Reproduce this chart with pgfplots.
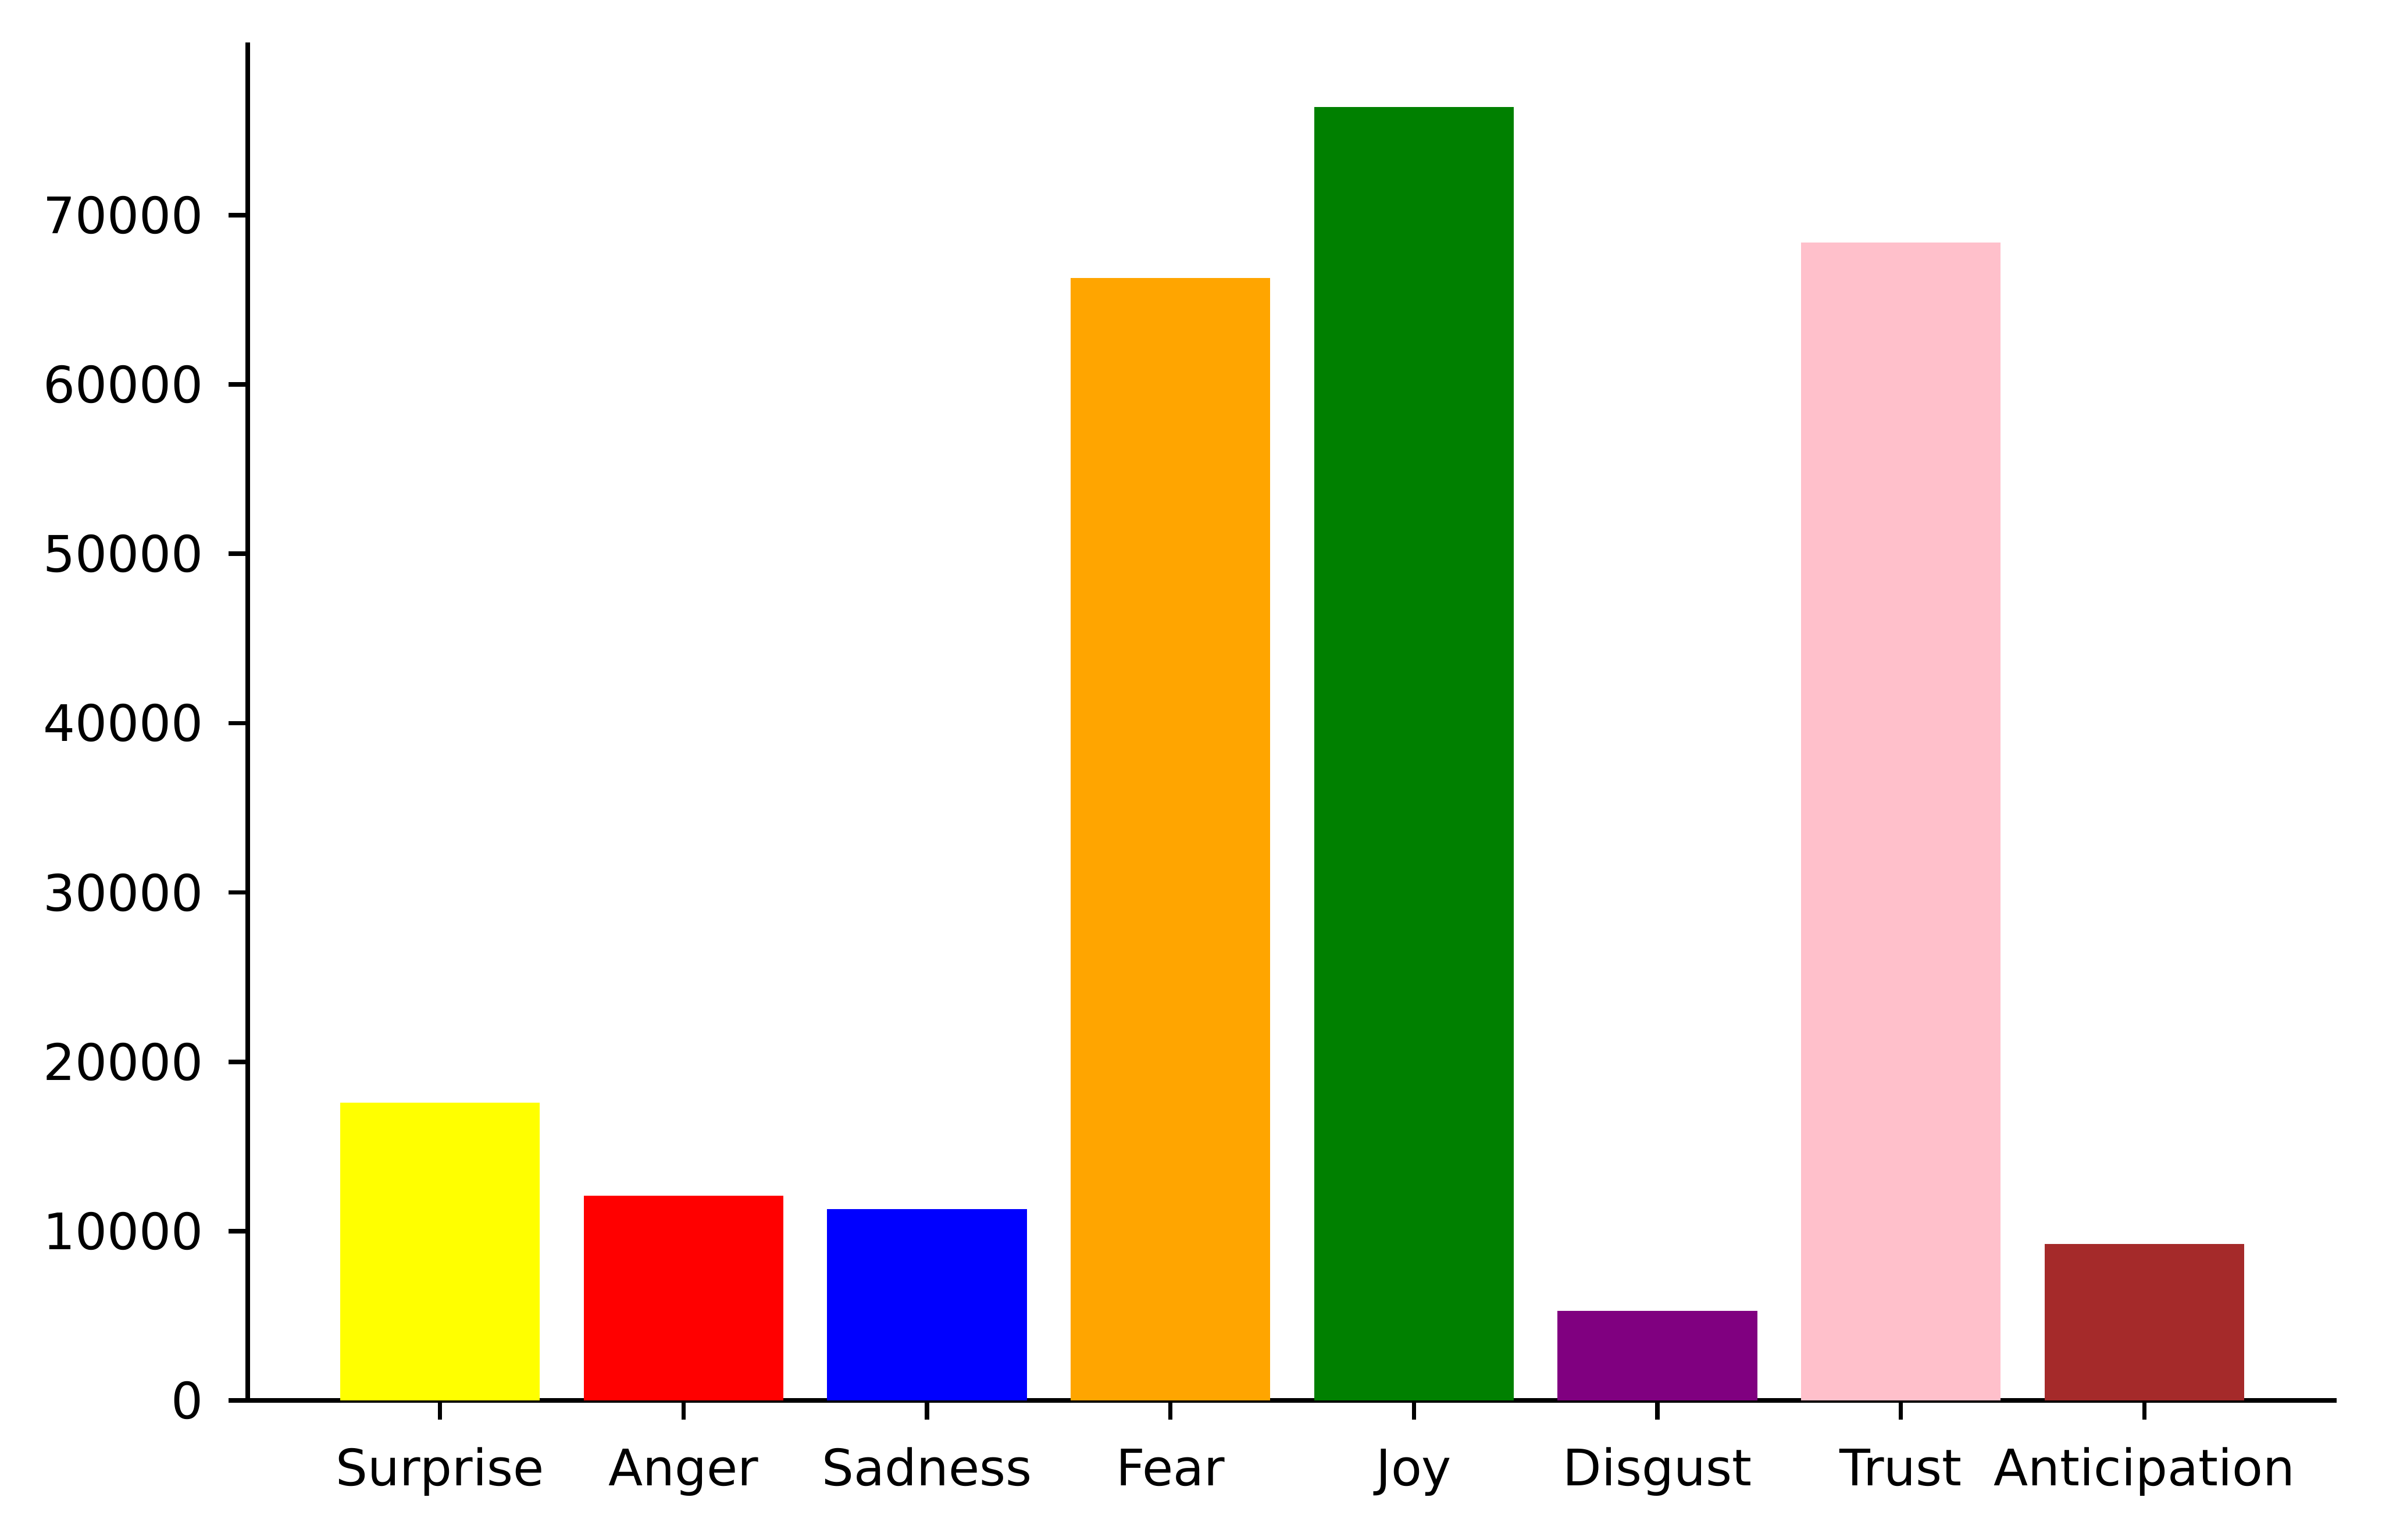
\documentclass[border=0pt]{standalone}
\usepackage{pgfplots}
\pgfplotsset{compat=1.18}
\usepackage{fontspec}
\setmainfont{DejaVu Sans}
\definecolor{cYellow}{RGB}{255,255,0}
\definecolor{cRed}{RGB}{255,0,0}
\definecolor{cBlue}{RGB}{0,0,255}
\definecolor{cOrange}{RGB}{255,165,0}
\definecolor{cGreen}{RGB}{0,128,0}
\definecolor{cPurple}{RGB}{128,0,128}
\definecolor{cPink}{RGB}{255,192,203}
\definecolor{cBrown}{RGB}{165,42,42}
\begin{document}
\begin{tikzpicture}
\path[use as bounding box] (-45.3pt,-25.4pt) rectangle (390.3pt,256.1pt);
\begin{axis}[
  at={(0,0)}, anchor=south west,
  scale only axis, width=382pt, height=248.3pt,
  xmin=-0.79, xmax=7.79, ymin=0, ymax=80182,
  axis x line=bottom, axis y line=left,
  axis line style={-, line width=0.8pt, black},
  tick align=outside, major tick length=3.5pt,
  tick style={line width=0.8pt, black},
  xtick={0,1,2,3,4,5,6,7},
  xticklabels={Surprise,Anger,Sadness,Fear,Joy,Disgust,Trust,Anticipation},
  ytick={0,10000,20000,30000,40000,50000,60000,70000},
  scaled y ticks=false,
  /pgf/number format/1000 sep={},
  /pgf/number format/assume math mode=true,
  ticklabel style={font=\fontsize{9.2}{11}\selectfont},
  xticklabel style={inner sep=0pt, text height=0.76em, yshift=-4.3pt},
  yticklabel style={inner sep=0pt, xshift=-4.4pt},
  clip=false,
]
\addplot[ybar, bar width=0.82, bar shift=0, fill=cYellow, draw=none] coordinates {(0,17580)};
\addplot[ybar, bar width=0.82, bar shift=0, fill=cRed, draw=none] coordinates {(1,12100)};
\addplot[ybar, bar width=0.82, bar shift=0, fill=cBlue, draw=none] coordinates {(2,11300)};
\addplot[ybar, bar width=0.82, bar shift=0, fill=cOrange, draw=none] coordinates {(3,66300)};
\addplot[ybar, bar width=0.82, bar shift=0, fill=cGreen, draw=none] coordinates {(4,76370)};
\addplot[ybar, bar width=0.82, bar shift=0, fill=cPurple, draw=none] coordinates {(5,5290)};
\addplot[ybar, bar width=0.82, bar shift=0, fill=cPink, draw=none] coordinates {(6,68380)};
\addplot[ybar, bar width=0.82, bar shift=0, fill=cBrown, draw=none] coordinates {(7,9230)};
\end{axis}
\end{tikzpicture}
\end{document}
